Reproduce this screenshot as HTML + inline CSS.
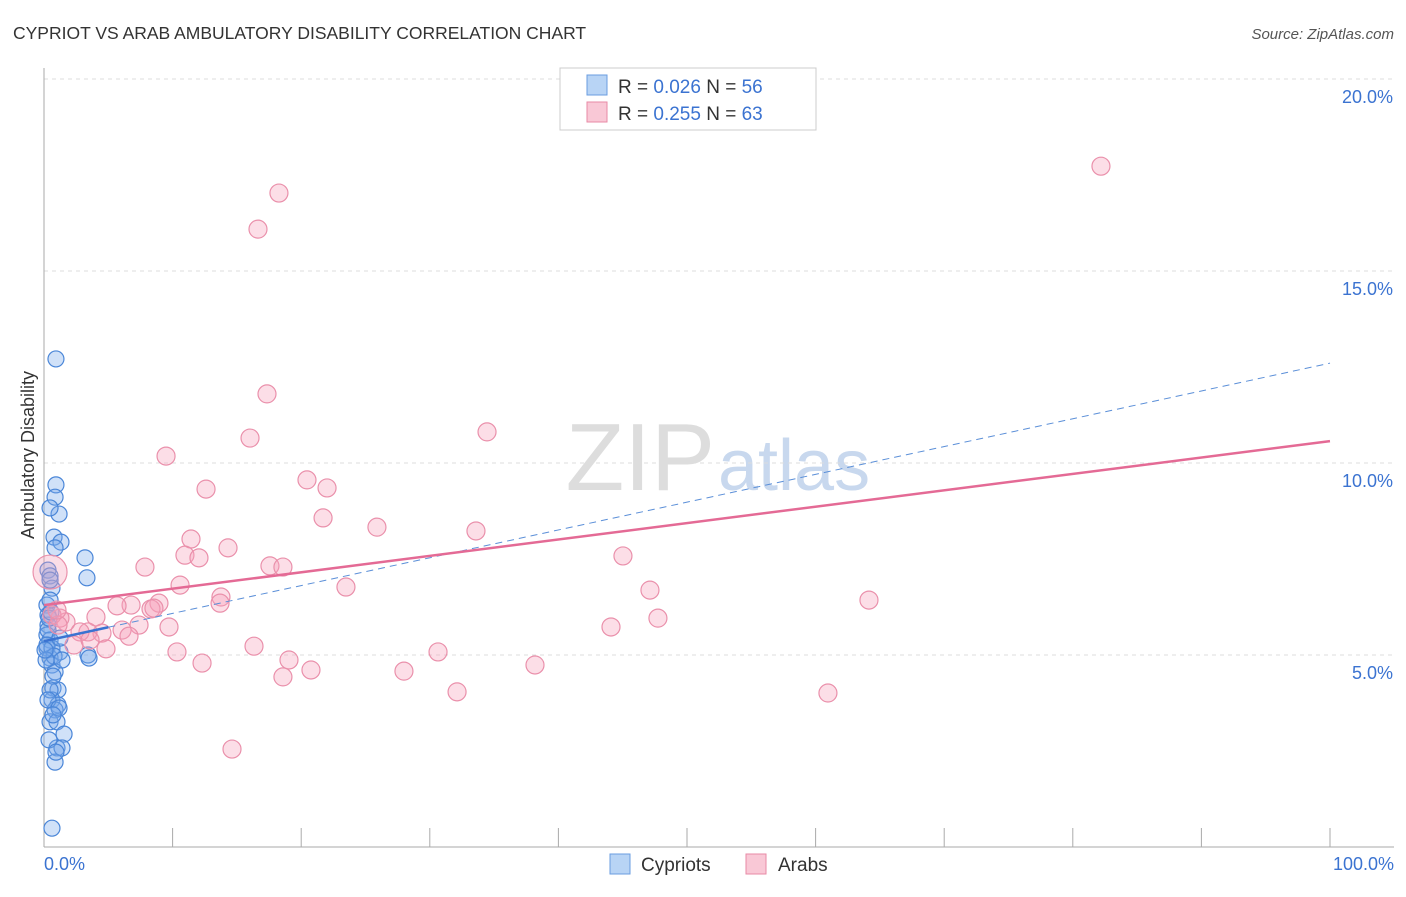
<!DOCTYPE html>
<html><head><meta charset="utf-8">
<style>
body{margin:0;background:#fff;font-family:"Liberation Sans",sans-serif;}
svg text{font-family:"Liberation Sans",sans-serif;}
</style></head>
<body>
<svg width="1406" height="892" xmlns="http://www.w3.org/2000/svg" id="chart">
<text x="13" y="39" font-size="17.5" fill="#333">CYPRIOT VS ARAB AMBULATORY DISABILITY CORRELATION CHART</text>
<text x="1394" y="39" font-size="15" fill="#555" font-style="italic" text-anchor="end">Source: ZipAtlas.com</text>
<text x="715" y="490" font-size="96" fill="#ddd" font-family="Liberation Serif" text-anchor="end">ZIP</text>
<text x="718" y="490" font-size="72" fill="#c8d8ee">atlas</text>
<g id="grid"></g>
<g id="axes"></g>
<g id="marks"></g>
<text transform="translate(34,455) rotate(-90)" font-size="18" fill="#333" text-anchor="middle">Ambulatory Disability</text>
<g>
<rect x="560" y="68" width="256" height="62" fill="#fff" stroke="#ccc"/>
<rect x="587" y="75" width="20" height="20" fill="#b8d4f5" stroke="#6a9de0"/>
<text x="618" y="93" font-size="19" fill="#333">R = <tspan fill="#3b73d1">0.026</tspan>   N = <tspan fill="#3b73d1">56</tspan></text>
<rect x="587" y="102" width="20" height="20" fill="#f9c8d6" stroke="#e88aa6"/>
<text x="618" y="120" font-size="19" fill="#333">R = <tspan fill="#3b73d1">0.255</tspan>   N = <tspan fill="#3b73d1">63</tspan></text>
</g>
<g>
<rect x="610" y="854" width="20" height="20" fill="#b8d4f5" stroke="#6a9de0"/>
<text x="641" y="871" font-size="19" fill="#333">Cypriots</text>
<rect x="746" y="854" width="20" height="20" fill="#f9c8d6" stroke="#e88aa6"/>
<text x="778" y="871" font-size="19" fill="#333">Arabs</text>
</g>
</svg>
<script>
const yTicks=[5,10,15,20];
const yTickLabels=["5.0%","10.0%","15.0%","20.0%"];
const xTickLabels=["0.0%","100.0%"];
const cypX=[0.93,0.93,0.86,1.17,0.47,0.78,1.32,0.86,3.19,3.34,0.31,0.47,0.62,0.23,0.31,0.31,0.23,0.47,0.23,1.24,0.47,3.42,3.50,0.62,0.86,0.70,1.09,0.62,1.09,0.86,0.47,1.01,1.56,1.01,1.40,0.86,0.62,0.31,0.23,0.62,0.78,0.16,0.39,0.54,1.24,0.70,0.47,0.31,1.17,0.70,0.39,0.93,0.47,0.47,1.40,0.08];
const cypY=[12.71,9.43,9.11,8.67,8.83,8.07,7.94,7.79,7.53,7.01,7.21,7.06,6.74,6.30,6.04,5.78,5.52,5.39,5.18,5.08,4.92,5.00,4.92,4.74,4.56,4.14,4.09,3.83,3.70,3.57,3.26,3.26,2.94,2.58,2.58,2.21,0.49,5.65,5.26,5.18,4.97,4.87,5.96,6.12,5.44,4.45,4.09,3.83,3.62,3.44,2.79,2.47,6.95,6.43,4.87,5.13];
const arabX=[18.27,16.64,82.19,17.34,34.45,16.02,9.49,12.60,20.45,22.01,21.70,25.89,33.59,11.43,14.31,10.96,12.05,17.57,18.58,7.85,45.02,10.58,23.48,47.12,64.15,13.76,13.69,8.94,6.77,5.68,8.32,4.04,1.71,1.24,0.62,1.09,7.39,9.72,44.09,47.74,6.07,6.61,4.51,3.42,2.80,2.33,4.82,10.34,16.33,30.64,19.05,12.29,20.76,38.18,27.99,18.58,32.12,60.96,14.62,0.47,1.01,3.58,8.55];
const arabY=[17.03,16.09,17.73,11.80,10.81,10.65,10.18,9.32,9.56,9.35,8.57,8.33,8.23,8.02,7.79,7.60,7.53,7.32,7.29,7.29,7.58,6.82,6.77,6.69,6.43,6.51,6.35,6.35,6.30,6.28,6.20,5.99,5.86,5.96,6.04,5.78,5.78,5.73,5.73,5.96,5.65,5.49,5.57,5.60,5.60,5.26,5.16,5.08,5.23,5.08,4.87,4.79,4.61,4.74,4.58,4.43,4.04,4.01,2.55,7.16,6.17,5.39,6.22];
const arabR=arabX.map((_,i)=>i===59?17:9);
const cypTrend=[5.36,12.6];
const arabTrend=[6.3,10.57];
const X=v=>44+v*12.86, Y=v=>847-v*38.4;
const NS="http://www.w3.org/2000/svg";
function mk(tag,attrs,parent){const e=document.createElementNS(NS,tag);for(const k in attrs)e.setAttribute(k,attrs[k]);document.getElementById(parent).appendChild(e);return e;}
yTicks.forEach((t,i)=>{
 const l=mk('line',{x1:44,x2:1394,y1:Y(t),y2:Y(t),stroke:'#ddd','stroke-dasharray':'4,4'},'grid');
 
 
 const tx=mk('text',{x:1393,y:Y(t)+24,'font-size':18,fill:'#3b73d1','text-anchor':'end'},'axes');
 tx.textContent=yTickLabels[i];
 
 
});
const ax=mk('line',{x1:44,x2:44,y1:68,y2:847,stroke:'#aaa'},'axes');


const bx=mk('line',{x1:44,x2:1394,y1:847,y2:847,stroke:'#aaa'},'axes');


for(let i=0;i<=10;i++){
 const t=mk('line',{x1:X(i*10),x2:X(i*10),y1:828,y2:847,stroke:'#aaa'},'axes');
 
 
}
[[0,'start',44],[100,'end',1394]].forEach((a,i)=>{
 const t=mk('text',{x:a[2],y:870,'font-size':18,fill:'#3b73d1','text-anchor':a[1]},'axes');
 t.textContent=xTickLabels[i];
 
 
});
cypX.forEach((x,i)=>{
 const c=mk('circle',{cx:X(x),cy:Y(cypY[i]),r:8,fill:'rgba(120,170,235,0.35)',stroke:'#4a86d8','stroke-width':1.2},'marks');
 
 
});
arabX.forEach((x,i)=>{
 const c=mk('circle',{cx:X(x),cy:Y(arabY[i]),r:arabR[i],fill:'rgba(245,160,185,0.35)',stroke:'#ea90ab','stroke-width':1.2},'marks');
 
 
});
const s1=mk('line',{x1:X(0),y1:Y(cypTrend[0]),x2:X(5),y2:Y(cypTrend[0]+(cypTrend[1]-cypTrend[0])*0.05),stroke:'#3b73d1','stroke-width':2.5},'marks');


const s2=mk('line',{x1:X(5),y1:Y(cypTrend[0]+(cypTrend[1]-cypTrend[0])*0.05),x2:X(100),y2:Y(cypTrend[1]),stroke:'#5b8fd8','stroke-width':1,'stroke-dasharray':'7,5'},'marks');


const p=mk('line',{x1:X(0),y1:Y(arabTrend[0]),x2:X(100),y2:Y(arabTrend[1]),stroke:'#e46a95','stroke-width':2.5},'marks');


</script>
</body></html>
